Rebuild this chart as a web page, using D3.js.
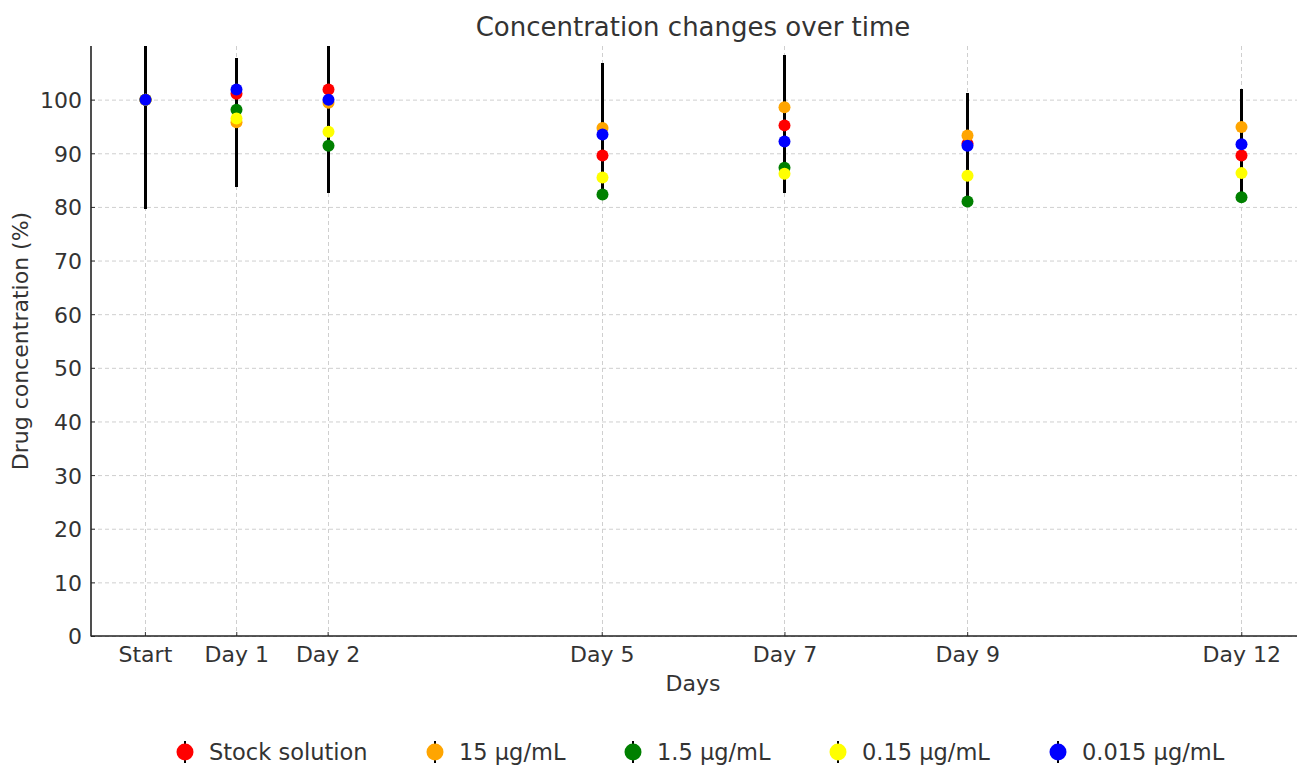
<!DOCTYPE html>
<html>
<head>
<meta charset="utf-8">
<script src="https://cdn.jsdelivr.net/npm/d3@7"></script>
<style>
  html, body { margin: 0; padding: 0; background: #fff; }
  svg { display: block; font-family: "DejaVu Sans", sans-serif; }
</style>
</head>
<body>
<svg id="chart" width="1305" height="767"></svg>
<script>
// Sampling days and their axis labels
const days = [0, 1, 2, 5, 7, 9, 12];
const dayLabels = ["Start", "Day 1", "Day 2", "Day 5", "Day 7", "Day 9", "Day 12"];

// Mean remaining drug concentration (%) per solution
const stockMean = [100, 101.1, 101.9, 89.6, 95.2, 91.8, 89.6];
const mg15Mean = [100, 95.8, 99.4, 94.7, 98.6, 93.3, 94.9];
const mg1_5Mean = [100, 98.1, 91.4, 82.3, 87.3, 81.0, 81.8];
const mg0_15Mean = [100, 96.5, 94.0, 85.5, 86.2, 85.8, 86.3];
const mg0_015Mean = [100, 101.9, 100.0, 93.5, 92.2, 91.4, 91.7];

// Standard deviations (%) per solution
const stockErr = [20.3, 5, 19.3, 6, 4, 5, 6];
const mg15Err = [20, 12, 8, 12.2, 9.8, 7.9, 5];
const mg1_5Err = [15, 4, 6, 0.2, 3, 1.1, 0.5];
const mg0_15Err = [10, 6, 7, 3, 3.6, 4, 4];
const mg0_015Err = [18, 5, 9, 8, 5, 5, 10.3];

const seriesNames = ["Stock solution", "15 μg/mL", "1.5 μg/mL", "0.15 μg/mL", "0.015 μg/mL"];
const seriesColors = ["red", "orange", "green", "yellow", "blue"];
const yTicks = [0, 10, 20, 30, 40, 50, 60, 70, 80, 90, 100];

const means = [stockMean, mg15Mean, mg1_5Mean, mg0_15Mean, mg0_015Mean];
const errs = [stockErr, mg15Err, mg1_5Err, mg0_15Err, mg0_015Err];
const series = seriesNames.map((name, i) => ({
  name, color: seriesColors[i],
  points: days.map((d, j) => ({ day: d, mean: means[i][j], err: errs[i][j] }))
}));

const svg = d3.select("#chart");
const plotLeft = 91, plotRight = 1297, plotTop = 46, plotBottom = 636;
const textColor = "#333";

const x = d3.scaleLinear().domain([-0.59, 12.61]).range([plotLeft, plotRight]);
const y = d3.scaleLinear().domain([0, 110]).range([plotBottom, plotTop]);
const px = d => Math.round(x(d)) + 0.5;

// Grid
const grid = svg.append("g").attr("stroke", "#cfcfcf").attr("stroke-width", 1).attr("stroke-dasharray", "4,3");
grid.selectAll("line.h").data(yTicks).join("line")
  .attr("x1", plotLeft).attr("x2", plotRight)
  .attr("y1", d => y(d) + 0.5).attr("y2", d => y(d) + 0.5);
grid.selectAll("line.v").data(days).join("line")
  .attr("x1", px).attr("x2", px)
  .attr("y1", plotTop).attr("y2", plotBottom);

// Clip region for the plotted marks
svg.append("clipPath").attr("id", "plotClip")
  .append("rect").attr("x", plotLeft).attr("y", plotTop).attr("width", plotRight - plotLeft).attr("height", plotBottom - plotTop);

const plot = svg.append("g").attr("clip-path", "url(#plotClip)");

// Error bars first, then markers on top
series.forEach(s => {
  plot.append("g").selectAll("line").data(s.points).join("line")
    .attr("x1", d => px(d.day)).attr("x2", d => px(d.day))
    .attr("y1", d => y(d.mean - d.err)).attr("y2", d => y(d.mean + d.err))
    .attr("stroke", "#000").attr("stroke-width", 3).attr("shape-rendering", "crispEdges");
});
series.forEach(s => {
  plot.append("g").selectAll("circle").data(s.points).join("circle")
    .attr("cx", d => px(d.day)).attr("cy", d => y(d.mean))
    .attr("r", 6).attr("fill", s.color);
});

// Axes
const xAxis = d3.axisBottom(x).tickValues(days).tickFormat((d, i) => dayLabels[i]).tickSizeInner(-4).tickSizeOuter(0).tickPadding(10);
const yAxis = d3.axisLeft(y).tickValues(yTicks).tickSizeInner(-4).tickSizeOuter(0).tickPadding(9);

const gx = svg.append("g").attr("transform", `translate(0,${plotBottom})`).call(xAxis);
const gy = svg.append("g").attr("transform", `translate(${plotLeft},0)`).call(yAxis);
[gx, gy].forEach(g => {
  g.select(".domain").remove();
  g.selectAll(".tick line").attr("stroke", "#333").attr("stroke-width", 1);
  g.selectAll(".tick text").attr("fill", textColor).attr("font-size", 22).attr("font-family", "DejaVu Sans, sans-serif");
});
gy.selectAll(".tick text").attr("dy", "0.36em");

// Spines (left and bottom)
svg.append("line").attr("x1", plotLeft).attr("x2", plotLeft).attr("y1", plotTop).attr("y2", plotBottom + 0.5)
  .attr("stroke", "#222").attr("stroke-width", 1.6);
svg.append("line").attr("x1", plotLeft).attr("x2", plotRight).attr("y1", plotBottom).attr("y2", plotBottom)
  .attr("stroke", "#222").attr("stroke-width", 1.6);

// Titles
svg.append("text").attr("x", (plotLeft + plotRight) / 2 - 1).attr("y", 36).attr("text-anchor", "middle")
  .attr("font-size", 26).attr("fill", textColor).text("Concentration changes over time");
svg.append("text").attr("x", (plotLeft + plotRight) / 2 - 1).attr("y", 691).attr("text-anchor", "middle")
  .attr("font-size", 22).attr("fill", textColor).text("Days");
svg.append("text").attr("transform", `translate(28,${(plotTop + plotBottom) / 2}) rotate(-90)`)
  .attr("text-anchor", "middle").attr("font-size", 22).attr("fill", textColor).text("Drug concentration (%)");

// Legend
const legendX = [185, 435, 633, 838, 1058];
const legend = svg.append("g");
series.forEach((s, i) => {
  const g = legend.append("g").attr("transform", `translate(${legendX[i]},752)`);
  g.append("line").attr("y1", -11).attr("y2", 11).attr("stroke", "#000").attr("stroke-width", 2);
  g.append("circle").attr("r", 8.5).attr("fill", s.color);
  g.append("text").attr("x", 24).attr("dy", "0.36em").attr("font-size", 22.5).attr("fill", textColor).text(s.name);
});
</script>
</body>
</html>
